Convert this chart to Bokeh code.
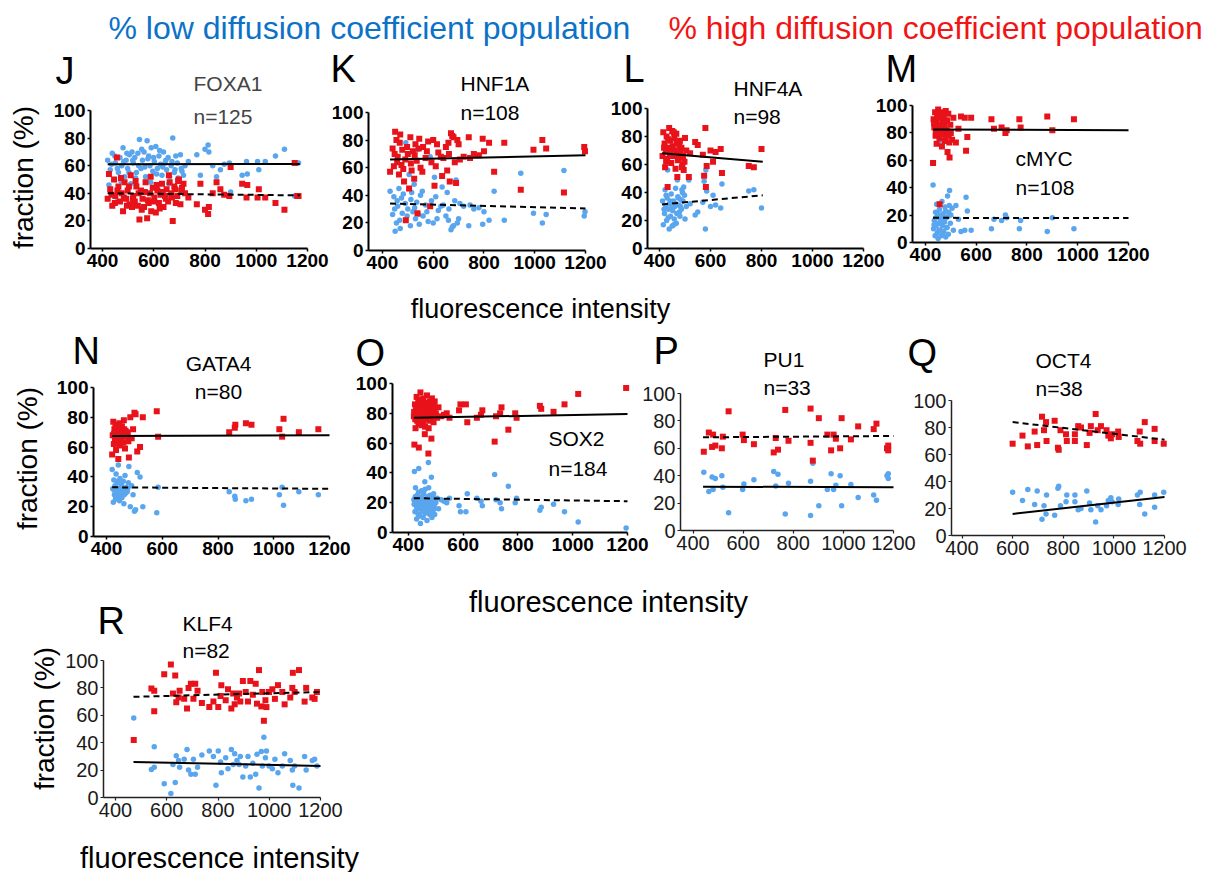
import math
from bokeh.plotting import figure
from bokeh.models import Range1d, Label, FixedTicker, LinearAxis
from bokeh.embed import file_html
from bokeh.resources import INLINE

FONT = "Liberation Sans"
BLUE = "#5AA6EE"
RED = "#E8121B"
W, H = 1208, 872

x_ticks = [400, 600, 800, 1000, 1200]
y_ticks = [0, 20, 40, 60, 80, 100]

# ---------------- data (fluorescence intensity, % low, % high) ----------------
J_intensity = [420,430,438,445,450,456,462,468,475,480, 486,492,498,505,510,515,520,526,532,538,
               544,550,556,562,568,574,580,585,590,596, 602,608,614,620,626,632,638,644,650,656,
               662,668,674,680,686,692,698,704,710,716, 722,735,768,782,800,812,815,830,845,860,
               875,895,900,945,962,965,1005,1010,1035,1075, 1110,1150,1160,1165,
               425,435,448,458,472,483,495,503,518,529,541,553,565,577,588,599,611,623,635,647,659,671,683,695,707]
J_low = [64,57,69,50,62,34,55,66,60,73, 52,64,58,68,47,70,62,66,55,69, 79,58,64,70,52,78,67,60,73,56,
         63,74,58,67,61,53,70,62,57,66, 52,60,80,55,67,62,50,68,56,53, 60,63,68,53,72,75,70,60,52,57,
         61,62,41,53,63,54,63,57,63,67, 72,38,62,62,
         46,61,67,58,49,63,69,55,64,51,60,72,59,65,48,66,54,71,59,64,47,63,57,51,58]
J_high = [36,43,31,50,38,66,45,34,40,27, 48,36,42,32,53,30,38,34,45,31, 21,42,36,30,48,22,33,40,27,44,
          37,26,42,33,39,47,30,38,43,34, 48,40,20,45,33,38,50,32,44,47, 40,37,32,47,28,25,30,40,48,43,
          39,38,59,47,37,46,37,43,37,33, 28,62,38,38,
          54,39,33,42,51,37,31,45,36,49,40,28,41,35,52,34,46,29,41,36,53,37,43,49,42]
J_fit_x = [420, 1170]
J_fit_low = [61, 61.2]
J_fit_high = [40, 38.5]

K_intensity = [430,440,445,450,455,460,465,470,475,478, 485,490,492,500,505,510,515,520,525,530,
               535,538,545,550,560,570,580,588,600,605, 610,620,630,640,650,655,660,665,670,680,
               690,695,700,720,740,745,760,780,795,800, 820,840,880,945,995,1030,1045,1115,1195,1198,
               448,458,468,482,497,512,527,543,557,575,593,615,635,662,675,685,705]
K_high = [57,74,61,86,80,68,55,84,62,73, 50,66,22,70,45,82,58,72,52,77, 65,27,81,60,75,67,79,32,80,47,
          61,71,68,67,75,58,78,50,85,82, 49,80,77,68,82,67,70,69,81,72, 78,57,78,44,73,80,74,42,75,72,
          70,64,78,59,75,63,69,74,57,72,64,77,54,70,83,64,66]
K_low = [43,26,39,14,20,32,45,16,38,27, 50,34,78,30,55,18,42,28,48,23, 35,73,19,40,25,33,21,68,20,53,
         39,29,32,33,25,42,22,50,15,18, 51,20,23,32,18,33,30,31,19,28, 22,43,22,56,27,20,26,58,25,28,
         30,36,22,41,25,37,31,26,43,28,36,23,46,30,17,36,34]
K_fit_x = [430, 1200]
K_fit_low = [34, 30.5]
K_fit_high = [66, 69]

L_intensity = [412,415,420,422,425,428,430,432,435,438, 440,443,446,450,452,455,458,460,463,466,
               470,472,475,478,480,483,486,490,495,500, 505,515,520,540,550,570,575,580,582,585,
               600,610,620,640,645,750,770,800,
               418,426,434,442,448,456,464,468,474,482,488,492,498]
L_high = [66,83,75,58,70,80,64,44,72,86, 68,77,61,84,73,66,79,70,57,82, 51,63,69,74,77,65,72,60,56,79,
          70,51,68,76,74,67,52,86,44,59, 70,62,69,71,54,59,58,71,
          72,62,78,66,71,83,68,75,64,70,58,66,62]
L_low = [34,17,25,42,30,20,36,56,28,14, 32,23,39,16,27,34,21,30,43,18, 49,37,31,26,23,35,28,40,44,21,
         30,49,32,24,26,33,48,14,56,41, 30,38,31,29,46,41,42,29,
         28,38,22,34,29,17,32,25,36,30,42,34,38]
L_fit_x = [410, 805]
L_fit_low = [31.5, 38]
L_fit_high = [68, 62]

M_intensity = [430,432,435,438,440,442,444,446,448,450, 452,455,456,457,460,462,465,467,470,472,
               475,477,480,482,485,487,490,492,495,498, 500,505,510,520,530,540,555,560,565,580,
               660,670,700,715,720,770,775,880,900,985,
               434,441,447,453,459,464,469,474,479,484,489,494]
M_high = [58,90,84,95,78,88,72,93,81,97, 86,76,28,91,83,95,70,88,79,92, 85,74,96,82,89,66,94,78,62,86,
          80,75,91,73,83,92,91,67,77,91, 90,83,84,80,82,90,84,92,82,90,
          87,82,79,91,86,80,93,84,77,89,81,73]
M_low = [42,10,16,5,22,12,28,7,19,3, 14,24,72,9,17,5,30,12,21,8, 15,26,4,18,11,34,6,22,38,14,
         20,25,9,27,17,8,9,33,23,9, 10,17,16,20,18,10,16,8,18,10,
         13,18,21,9,14,20,7,16,23,11,19,27]
M_fit_x = [430, 1200]
M_fit_low = [18, 17.8]
M_fit_high = [82.5, 82]

N_intensity = [420,422,424,426,428,430,432,434,436,438, 440,442,444,446,448,450,452,455,458,460,
               463,466,470,474,478,480,485,490,495,500, 504,510,520,530,580,585,840,860,862,900,
               920,1020,1030,1035,1090,1160,
               427,433,441,447,453,462,468,476]
N_high = [55,68,77,62,72,66,75,58,70,64, 73,52,68,76,61,71,65,74,69,63, 72,59,67,70,64,53,80,66,72,83,
          82,57,60,80,84,67,70,73,75,76, 75,72,67,79,70,72,
          69,74,63,70,66,78,71,68]
N_low = [45,32,23,38,28,34,25,42,30,36, 27,48,32,24,39,29,35,26,31,37, 28,41,33,30,36,47,20,34,28,17,
         18,43,40,20,16,33,30,27,25,24, 25,28,33,21,30,28,
         31,26,37,30,34,22,29,32]
N_fit_x = [420, 1200]
N_fit_low = [33, 32]
N_fit_high = [67.5, 68]

O_intensity = [420,422,424,426,428,430,432,434,436,438, 440,442,444,446,448,450,452,454,456,458,
               460,462,464,466,468,470,472,473,474,476, 478,480,482,484,486,488,490,492,494,496,
               498,500,505,510,520,530,540,550,585,590, 610,615,650,665,670,715,720,735,740,765,
               790,795,880,885,930,970,1020,1195,
               421,425,429,433,437,441,445,449,453,457,461,465,469,475,479,483,487,491,495,499]
O_high = [78,59,86,70,82,91,75,80,88,57, 84,77,94,81,72,86,79,90,74,83, 66,87,78,81,92,76,85,53,70,80,
          88,83,77,63,90,79,85,74,82,88, 78,80,77,84,78,79,80,77,82,86, 86,74,77,79,82,61,78,80,84,69,
          80,77,85,83,81,86,93,97,
          81,76,85,79,73,89,82,76,84,80,71,86,79,83,75,87,81,77,84,79]
O_low = [22,41,14,30,18,9,25,20,12,43, 16,23,6,19,28,14,21,10,26,17, 34,13,22,19,8,24,15,47,30,20,
         12,17,23,37,10,21,15,26,18,12, 22,20,23,16,22,21,20,23,18,14, 14,26,23,21,18,39,22,20,16,31,
         20,23,15,17,19,14,7,3,
         19,24,15,21,27,11,18,24,16,20,29,14,21,17,25,13,19,23,16,21]
O_fit_x = [420, 1200]
O_fit_low = [23, 21]
O_fit_high = [77, 79.5]

P_intensity = [443,463,476,480,489,515,519,542,598,603,643,722,730,739,768,781,869,869,878,902,
               936,951,961,970,987,993,1030,1059,1121,1132,1174,1179,1179]
P_high = [57.5,71.5,61,70,62,60,68.5,87,70,66,63,57,67.5,59,88,65.5,89,64,51,82,
          70,58.5,70,67,60,82,66.5,76,74,78,60,62,58.5]
P_low = [42.5,28.5,39,30,38,40,31.5,13,30,34,37,43,32.5,41,12,34.5,11,36,49,18,
         30,41.5,30,33,40,18,33.5,24,26,22,40,38,41.5]
P_fit_x = [440, 1200]
P_fit_low = [32, 31.5]
P_fit_high = [68, 69]

Q_intensity = [600,639,660,687,697,716,724,732,734,766,779,782,789,811,814,846,846,859,870,893,
               904,909,928,936,949,971,978,988,993,1017,1019,1093,1102,1104,1122,1161,1161,1197]
Q_high = [68,74,66,77,67,88,78,84,70,85,65,63.5,78,75,70,70,75,81,80,67,
          76,81,90,78,81,78,74,72,75,77,73,70,77,68,84,79,70,68]
Q_low = [32,26,34,23,33,12,22,16,30,15,35,36.5,22,25,30,30,25,19,20,33,
         24,19,10,22,19,22,26,28,25,23,27,30,23,32,16,21,30,32]
Q_fit_x = [600, 1200]
Q_fit_low = [16, 28.5]
Q_fit_high = [84, 71]

R_intensity = [471,540,551,551,590,616,624,633,637,646,650,668,679,685,694,704,711,720,737,766,
               782,792,801,810,813,830,839,852,859,865,874,882,887,897,908,917,926,936,947,952,
               960,969,973,979,985,989,999,1012,1022,1034,1051,1060,1082,1090,1092,1099,1116,1138,1144,1168,
               1177,1186]
R_high = [42,79.5,78,63,90,97,76,89,69.5,73,78,72,65,80,83,72,83,78,69,66,
          70,91,66,74,82,71,79,65,76,68,73,76,70,85,77,70,85,75,83,68.5,
          93,66.5,77,56,71,66,77,79,72,82,77,68,73,80,91,77,93,70,80,73,
          72,77]
R_low = [58,20.5,22,37,10,3,24,11,30.5,27,22,28,35,20,17,28,17,22,31,34,
         30,9,34,26,18,29,21,35,24,32,27,24,30,15,23,30,15,25,17,31.5,
         7,33.5,23,44,29,34,23,21,28,18,23,32,27,20,9,23,7,30,20,27,
         28,23]
R_fit_x = [470, 1200]
R_fit_low = [26, 23]
R_fit_high = [73.5, 77]

# ---------------- one page-sized figure; page-pixel default ranges for text ----------------
p = figure(width=W, height=H, x_range=Range1d(0, W), y_range=Range1d(H, 0),
           x_axis_location=None, y_axis_location=None, toolbar_location=None,
           output_backend="svg", min_border=0)
p.outline_line_color = None
p.grid.visible = False
p.background_fill_color = "white"
p.border_fill_color = "white"


def txt(x, y, text, size, color="black", align="left", angle=0.0):
    p.add_layout(Label(x=x, y=y, text=text, text_font=FONT, text_font_size=f"{size}px",
                       text_color=color, text_align=align, text_baseline="middle",
                       angle=angle, angle_units="rad"))


def panel(key, frame, x0, x, low, high, fx, flow, fhigh, solid, bold=True, tick_size=19):
    fl, ft, fw, fh = frame
    sx = (1200 - x0) / fw
    fb = ft + fh
    sy = 100.0 / fh
    p.extra_x_ranges[key + "x"] = Range1d(x0 - fl * sx, 1200 + (W - fl - fw) * sx)
    p.extra_y_ranges[key + "y"] = Range1d((fb - H) * sy, fb * sy)
    rn = dict(x_range_name=key + "x", y_range_name=key + "y")

    xa = LinearAxis(fixed_location=0, bounds=(x0, 1200), ticker=FixedTicker(ticks=x_ticks), **rn)
    ya = LinearAxis(fixed_location=x0, bounds=(0, 100), ticker=FixedTicker(ticks=y_ticks), **rn)
    for ax in (xa, ya):
        ax.axis_line_width = 2 if bold else 1.5
        ax.axis_line_color = "black" if bold else "#222222"
        ax.major_tick_line_width = 1.5 if bold else 1.2
        ax.major_tick_line_color = ax.axis_line_color
        ax.major_tick_out = 3
        ax.major_tick_in = 0
        ax.minor_tick_line_color = None
        ax.major_label_text_font = FONT
        ax.major_label_text_font_size = f"{tick_size}px"
        ax.major_label_text_font_style = "bold" if bold else "normal"
        ax.major_label_text_color = "black" if bold else "#1a1a1a"
        ax.major_label_standoff = 2
    p.add_layout(xa, "below")
    p.add_layout(ya, "left")

    p.scatter(x, low, marker="circle", size=5.5, fill_color=BLUE, line_color=None, **rn)
    p.scatter(x, high, marker="square", size=6, fill_color=RED, line_color=None, **rn)
    p.line(fx, flow, line_color="black", line_width=2,
           line_dash="solid" if solid == "low" else "6 4", **rn)
    p.line(fx, fhigh, line_color="black", line_width=2,
           line_dash="solid" if solid == "high" else "6 4", **rn)


panel("J", (90, 110, 217, 138), 353, J_intensity, J_low, J_high, J_fit_x, J_fit_low, J_fit_high, "low")
panel("K", (368, 112, 217, 138), 345, K_intensity, K_low, K_high, K_fit_x, K_fit_low, K_fit_high, "high")
panel("L", (647, 108, 216, 140), 353, L_intensity, L_low, L_high, L_fit_x, L_fit_low, L_fit_high, "high")
panel("M", (912, 105, 216, 137), 349, M_intensity, M_low, M_high, M_fit_x, M_fit_low, M_fit_high, "high")
panel("N", (93, 387, 236, 149), 353, N_intensity, N_low, N_high, N_fit_x, N_fit_low, N_fit_high, "high")
panel("O", (392, 383, 235, 149), 342, O_intensity, O_low, O_high, O_fit_x, O_fit_low, O_fit_high, "high")
panel("P", (680, 393, 213, 137), 350, P_intensity, P_low, P_high, P_fit_x, P_fit_low, P_fit_high, "low",
      bold=False, tick_size=20)
panel("Q", (951, 400, 213, 135), 358.5, Q_intensity, Q_low, Q_high, Q_fit_x, Q_fit_low, Q_fit_high, "low",
      bold=False, tick_size=20)
panel("R", (103, 660, 217, 137), 353, R_intensity, R_low, R_high, R_fit_x, R_fit_low, R_fit_high, "low",
      bold=False, tick_size=20)

# ---------------- texts ----------------
txt(108, 27, "% low diffusion coefficient population", 32, color="#0B72C8")
txt(668, 27, "% high diffusion coefficient population", 32, color="#F01414")

letters = [("J", 55, 70), ("K", 330, 68), ("L", 623, 68), ("M", 885, 68),
           ("N", 72, 350), ("O", 355, 352), ("P", 653, 350), ("Q", 907, 352), ("R", 97, 620)]
for t, x, y in letters:
    txt(x, y, t, 38)

genes = [("FOXA1", "n=125", 193, 83, 116, "left", "#444444"), ("HNF1A", "n=108", 460, 83, 112, "left", "black"),
         ("HNF4A", "n=98", 733, 88, 116, "left", "black"), ("cMYC", "n=108", 1015, 158, 187, "left", "black"),
         ("GATA4", "n=80", 218, 363, 391, "center", "black"), ("SOX2", "n=184", 548, 438, 468, "left", "black"),
         ("PU1", "n=33", 763, 359, 387, "left", "black"), ("OCT4", "n=38", 1035, 360, 388, "left", "black"),
         ("KLF4", "n=82", 182, 623, 650, "left", "black")]
for g, n, x, yg, yn, al, col in genes:
    txt(x, yg, g, 21, color=col, align=al)
    txt(x, yn, n, 21, color=col, align=al)

for x, y in [(23, 177), (27, 458), (44, 718)]:
    txt(x, y, "fraction (%)", 28, align="center", angle=math.pi / 2)

txt(540, 308, "fluorescence intensity", 27, align="center")
txt(608, 601, "fluorescence intensity", 29, align="center")
txt(219, 857, "fluorescence intensity", 29, align="center")

open("out.html", "w").write(file_html(p, INLINE))
